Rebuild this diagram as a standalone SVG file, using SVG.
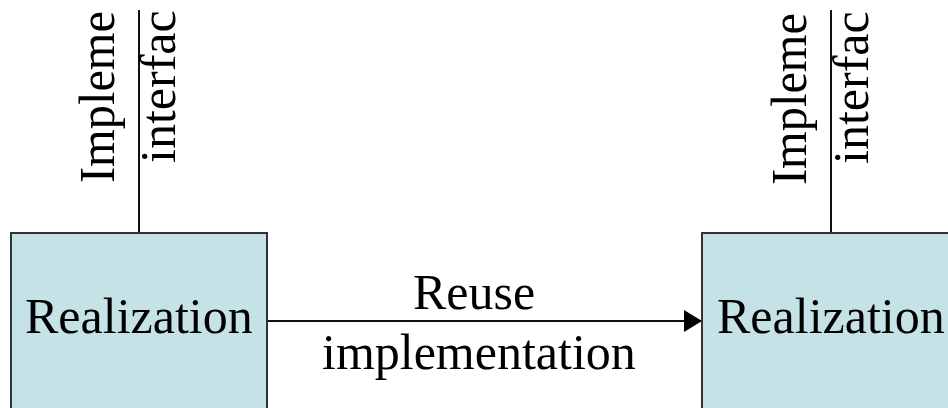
<svg xmlns="http://www.w3.org/2000/svg" width="948" height="408" viewBox="0 0 948 408">
  <style>
    .box { fill: #c5e3e7; stroke: #333333; stroke-width: 2; }
    .lbl { font-family: "Liberation Serif", "Times New Roman", serif; font-size: 50px; fill: #000000; }
    .wire { stroke: #111111; stroke-width: 2; fill: none; }
  </style>
  <defs>
    <marker id="arrowhead" markerUnits="userSpaceOnUse" markerWidth="18" markerHeight="22" refX="18" refY="11" orient="auto">
      <path d="M0,0 L18,11 L0,22 Z" fill="#000000"/>
    </marker>
  </defs>
  <rect width="948" height="408" fill="#ffffff"/>

  <!-- connectors -->
  <g id="connectors">
    <line class="wire" x1="139" y1="10" x2="139" y2="233"/>
    <line class="wire" x1="831" y1="10" x2="831" y2="233"/>
    <line class="wire" x1="267" y1="321" x2="702" y2="321" marker-end="url(#arrowhead)"/>
    <text class="lbl" x="413" y="309">Reuse</text>
    <text class="lbl" x="322" y="369">implementation</text>
  </g>

  <!-- left realization node with its interface label -->
  <g id="realization-left">
    <rect class="box" x="11" y="233" width="256" height="190"/>
    <text class="lbl" x="25" y="333">Realization</text>
    <text class="lbl" transform="translate(114,183) rotate(-90)" textLength="172" lengthAdjust="spacingAndGlyphs">Impleme</text>
    <text class="lbl" transform="translate(175,163) rotate(-90)">interfac</text>
  </g>

  <!-- right realization node with its interface label -->
  <g id="realization-right">
    <rect class="box" x="702" y="233" width="260" height="190"/>
    <text class="lbl" x="717" y="333">Realization</text>
    <text class="lbl" transform="translate(806,185) rotate(-90)" textLength="172" lengthAdjust="spacingAndGlyphs">Impleme</text>
    <text class="lbl" transform="translate(868,164) rotate(-90)">interfac</text>
  </g>
</svg>
